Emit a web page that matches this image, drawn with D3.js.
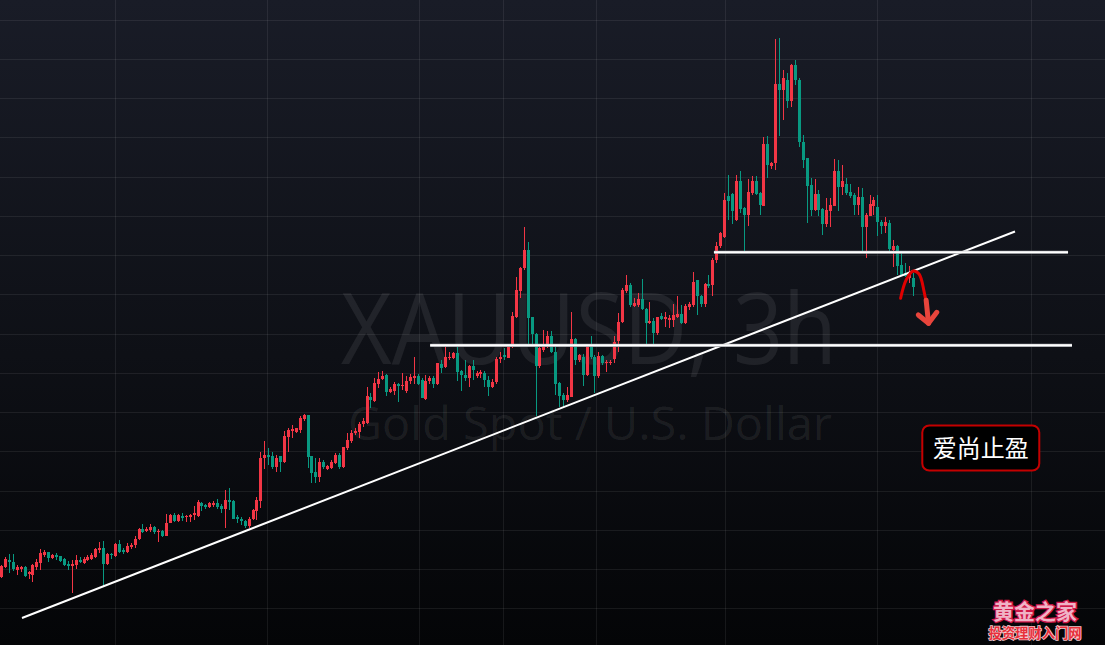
<!DOCTYPE html>
<html><head><meta charset="utf-8">
<script src="https://cdn.jsdelivr.net/npm/d3@7"></script>
<style>html,body{margin:0;padding:0;background:#0d0f14;overflow:hidden}svg{display:block}</style>
</head><body><svg id="chart" width="1105" height="645"></svg>
<script>
// ---- Candle data (3h bars, XAUUSD) ----
const open = [
2231.6,2241.6,2249.3,2247.0,2239.0,2240.3,2241.6,2234.6,2233.6,2242.3,
2246.6,2254.3,2257.0,2251.6,2254.6,2253.0,2250.3,2245.6,2242.6,2244.3,
2249.6,2246.0,2249.3,2250.3,2252.0,2259.3,2261.3,2245.3,2255.3,2253.3,
2265.3,2259.0,2257.0,2262.0,2264.3,2270.6,2281.2,2279.2,2279.9,2283.2,
2277.2,2278.9,2273.9,2287.2,2294.9,2288.9,2294.2,2292.6,2293.2,2294.6,
2293.9,2307.6,2305.2,2303.2,2305.6,2306.9,2304.2,2301.2,2309.9,2309.2,
2292.6,2290.9,2289.2,2283.9,2290.9,2298.9,2309.2,2352.8,2355.8,2355.5,
2344.0,2354.8,2349.0,2374.8,2380.5,2379.8,2381.5,2393.3,2396.6,2354.8,
2338.7,2334.0,2349.0,2342.4,2343.0,2348.0,2356.5,2344.0,2363.2,2370.8,
2378.2,2379.8,2388.2,2388.8,2415.6,2411.3,2429.0,2433.8,2438.1,2420.6,
2421.6,2429.0,2426.3,2421.6,2431.6,2434.8,2436.4,2432.3,2413.3,2431.6,
2434.4,2428.3,2449.1,2445.4,2454.8,2455.4,2459.8,2441.4,2438.1,2434.8,
2446.4,2436.4,2438.8,2439.8,2432.3,2425.0,2430.3,2453.8,2458.1,2455.4,
2466.4,2497.1,2522.9,2546.3,2565.4,2496.5,2479.8,2446.4,2463.1,2466.4,
2477.8,2461.4,2429.6,2417.3,2412.3,2415.6,2474.5,2453.1,2455.8,2438.1,
2466.4,2455.8,2436.4,2457.1,2449.8,2449.8,2453.8,2472.1,2492.1,2522.9,
2529.6,2507.8,2508.8,2515.6,2504.5,2491.1,2493.1,2480.5,2497.8,2494.5,
2493.8,2493.8,2497.1,2499.8,2491.1,2507.1,2508.8,2534.6,2518.6,2509.8,
2530.6,2529.6,2554.7,2568.7,2578.7,2620.1,2621.8,2596.1,2635.9,2607.8,
2601.1,2622.8,2635.9,2623.4,2610.1,2673.6,2650.9,2654.2,2734.4,2727.7,
2738.4,2716.7,2753.4,2738.4,2675.6,2658.9,2631.1,2606.1,2622.1,2606.8,
2591.1,2605.1,2610.4,2645.9,2629.2,2632.1,2623.8,2621.1,2611.1,2618.8,
2588.7,2600.1,2610.1,2609.4,2593.7,2589.4,2592.7,2565.4,2568.7,2549.3,
2541.9,2536.3,2536.3
];
const high = [
2244.3,2252.6,2255.3,2255.3,2244.3,2242.6,2242.6,2237.6,2245.3,2250.0,
2260.3,2259.6,2257.6,2255.3,2256.6,2253.6,2251.6,2248.6,2249.3,2254.3,
2252.6,2252.6,2254.3,2256.0,2261.0,2267.6,2268.3,2256.0,2256.6,2266.0,
2269.3,2261.3,2266.6,2267.0,2273.2,2282.2,2285.9,2283.2,2285.6,2283.9,
2280.6,2279.9,2295.6,2295.6,2296.6,2295.9,2296.6,2294.9,2295.6,2303.9,
2309.9,2308.2,2306.6,2307.9,2308.9,2311.4,2306.6,2320.7,2322.7,2309.9,
2294.9,2293.2,2289.9,2293.2,2301.6,2313.4,2359.2,2370.5,2363.2,2359.2,
2356.5,2355.5,2380.8,2383.8,2387.2,2383.8,2395.6,2398.3,2397.3,2355.5,
2353.2,2353.2,2350.7,2345.7,2350.7,2358.2,2358.2,2364.8,2378.2,2381.5,
2383.2,2389.8,2394.0,2425.6,2419.0,2434.8,2440.4,2441.4,2439.1,2425.6,
2430.6,2429.6,2439.8,2437.1,2439.1,2456.4,2439.1,2434.8,2438.1,2437.1,
2436.4,2450.4,2453.1,2466.4,2461.4,2461.4,2466.4,2443.1,2453.1,2448.1,
2453.1,2441.4,2443.1,2441.4,2436.4,2433.8,2456.4,2461.4,2464.8,2468.1,
2502.1,2537.9,2547.9,2588.7,2573.1,2497.1,2480.5,2466.4,2483.8,2482.1,
2482.1,2466.4,2430.6,2419.0,2425.6,2501.5,2475.5,2459.1,2459.1,2466.4,
2477.1,2458.1,2461.4,2458.1,2453.1,2453.1,2477.1,2500.5,2526.3,2539.6,
2531.3,2516.3,2521.3,2535.6,2506.3,2512.1,2495.5,2497.1,2500.5,2502.1,
2498.8,2510.5,2517.9,2508.8,2509.8,2512.1,2542.9,2534.6,2519.6,2531.9,
2539.6,2557.1,2573.7,2583.7,2622.8,2641.9,2622.8,2641.9,2645.2,2609.4,
2637.8,2640.2,2640.2,2624.4,2679.9,2681.6,2655.2,2779.7,2781.3,2748.4,
2745.1,2755.1,2758.4,2740.7,2682.6,2659.2,2638.6,2637.6,2626.1,2607.8,
2617.8,2617.8,2657.9,2656.9,2651.9,2638.6,2632.1,2622.8,2629.4,2627.8,
2602.8,2621.1,2619.4,2621.1,2595.4,2598.8,2595.4,2575.4,2570.4,2563.7,
2552.1,2548.7,2541.3
];
const low = [
2231.0,2241.0,2236.0,2237.6,2234.3,2236.6,2232.0,2230.0,2226.6,2239.3,
2238.6,2252.0,2247.6,2250.3,2249.3,2247.0,2242.6,2238.6,2216.0,2239.6,
2246.0,2245.3,2248.6,2249.3,2251.0,2256.6,2222.6,2244.3,2250.3,2252.0,
2256.6,2255.3,2256.0,2260.3,2261.0,2269.3,2276.6,2277.2,2277.9,2275.2,
2267.6,2272.2,2273.2,2286.6,2288.2,2287.6,2289.2,2288.2,2287.9,2289.9,
2293.2,2299.2,2301.6,2301.9,2303.2,2301.6,2297.2,2282.2,2299.9,2290.6,
2287.2,2284.9,2282.2,2281.6,2289.9,2289.9,2302.2,2341.7,2345.7,2341.7,
2339.0,2339.0,2348.4,2358.8,2373.2,2378.8,2378.2,2391.3,2343.0,2327.4,
2328.0,2329.0,2342.4,2341.4,2342.4,2346.7,2342.4,2343.4,2361.5,2368.2,
2376.5,2373.2,2384.8,2388.2,2404.0,2410.6,2424.0,2432.3,2416.3,2419.0,
2417.3,2410.6,2422.3,2419.6,2429.0,2429.0,2427.3,2414.0,2412.3,2429.0,
2424.0,2427.3,2439.8,2444.8,2453.1,2453.8,2431.4,2421.6,2431.4,2425.6,
2433.1,2434.8,2434.8,2425.6,2416.3,2424.0,2429.0,2449.8,2453.1,2454.8,
2464.8,2495.5,2516.3,2544.6,2466.4,2466.4,2395.6,2444.8,2461.4,2464.8,
2459.8,2417.3,2405.6,2405.0,2410.6,2415.6,2448.1,2451.4,2426.3,2437.1,
2453.8,2419.0,2434.8,2448.1,2440.4,2448.1,2449.8,2461.4,2490.5,2521.3,
2507.1,2507.1,2507.1,2503.8,2467.1,2489.8,2467.8,2478.8,2493.8,2487.1,
2485.5,2487.1,2495.5,2489.8,2489.8,2503.8,2506.5,2498.8,2506.5,2507.1,
2526.3,2517.9,2552.1,2567.1,2577.1,2596.1,2592.1,2595.1,2602.8,2562.1,
2589.4,2621.1,2621.1,2601.1,2609.6,2638.6,2647.6,2646.9,2681.6,2697.6,
2709.9,2710.9,2733.4,2670.2,2648.6,2592.8,2599.4,2604.4,2599.4,2580.4,
2588.7,2588.7,2610.1,2604.4,2621.1,2621.1,2617.8,2601.1,2601.1,2563.7,
2557.1,2599.4,2601.1,2579.4,2581.4,2582.1,2563.7,2547.3,2539.6,2538.6,
2537.9,2531.3,2517.9
];
const close = [
2242.6,2250.3,2247.0,2240.0,2241.6,2241.6,2233.3,2236.6,2243.6,2247.0,
2256.3,2257.3,2251.6,2254.3,2252.6,2248.0,2244.3,2242.6,2245.6,2249.3,
2247.0,2250.3,2252.0,2254.3,2260.3,2261.0,2245.6,2255.0,2254.0,2265.3,
2257.6,2257.6,2263.6,2264.6,2270.6,2280.9,2278.2,2280.6,2283.2,2277.2,
2278.9,2273.9,2286.9,2294.9,2289.2,2294.9,2292.2,2294.2,2294.9,2296.6,
2308.2,2303.9,2303.2,2306.9,2306.9,2302.9,2301.2,2309.9,2307.9,2291.2,
2290.6,2289.2,2283.9,2290.9,2300.2,2309.9,2353.2,2356.5,2354.2,2344.0,
2353.5,2349.0,2375.5,2381.5,2382.2,2383.2,2394.0,2397.3,2353.8,2338.0,
2334.0,2349.0,2344.0,2344.7,2349.0,2356.5,2344.0,2364.2,2371.5,2378.8,
2380.5,2388.2,2390.6,2416.3,2412.3,2429.6,2434.1,2436.4,2420.6,2423.3,
2429.0,2426.6,2427.3,2431.6,2435.8,2436.4,2429.0,2414.6,2431.6,2434.4,
2428.3,2449.8,2444.8,2455.8,2456.4,2459.8,2440.4,2438.1,2434.8,2446.4,
2443.1,2439.8,2440.4,2432.3,2425.6,2430.6,2454.1,2456.4,2456.4,2466.4,
2497.8,2524.6,2546.3,2565.4,2496.1,2479.5,2446.4,2465.4,2467.1,2477.8,
2460.8,2429.0,2416.3,2412.3,2417.3,2474.5,2453.1,2457.8,2438.1,2466.4,
2456.4,2436.4,2457.1,2449.8,2451.4,2451.4,2471.4,2492.1,2523.9,2529.6,
2508.8,2511.1,2515.6,2504.5,2491.1,2493.1,2480.5,2497.1,2494.5,2497.1,
2495.5,2498.8,2499.8,2491.1,2507.8,2509.8,2532.9,2518.6,2509.8,2530.6,
2528.6,2554.6,2569.4,2582.1,2616.1,2615.4,2605.1,2635.9,2607.1,2601.1,
2623.8,2635.9,2622.1,2611.1,2672.9,2651.9,2654.2,2734.4,2727.7,2740.1,
2716.7,2754.1,2738.4,2674.9,2656.9,2630.1,2606.1,2622.1,2606.1,2591.1,
2606.1,2611.1,2645.9,2629.2,2635.1,2622.8,2620.1,2611.1,2618.8,2588.7,
2601.1,2611.8,2616.1,2593.4,2589.4,2593.7,2566.1,2568.7,2548.6,2539.6,
2538.6,2541.3,2526.9
];

// grid (price levels and bar positions of the time grid)
const gridPrices = [2800,2760,2720,2680,2640,2600,2560,2520,2480,2440,2400,2360,2320,2280,2240,2200,2160];
const gridBars = [28.9, 67.6, 106.4, 127.7, 151.4, 184.2, 223.0, 262.0];

// drawings in (bar index, price)
const trendLine = [[5.34, 2190.1], [258.0, 2584.0]];
const levelLow  = [[109.2, 2468.0], [272.5, 2468.0]];
const levelHigh = [[181.4, 2562.8], [271.5, 2562.8]];
const arrowCurve = [[228.9,2515.9],[230.3,2534.5],[232.1,2543.7],[233.6,2540.6],[234.9,2522.2],[235.5,2509.1]];
const arrowShaft = [[235.4,2514.0],[236.0,2490.4]];
const arrowHead  = [[233.4,2498.9],[236.0,2490.4],[238.1,2501.6]];
const labelAnchor = [249.3, 2363.3];

// texts
const labelText = "爱尚止盈";
const symbolTitle = "XAUUSD, 3h";
const symbolDesc = "Gold Spot / U.S. Dollar";
const logoTitle = "黄金之家";
const logoSub = "投资理财入门网";

const W = 1105, H = 645;
const svg = d3.select("#chart");

const x = d3.scaleLinear().domain([0, 232]).range([1, 912.8]);
const y = d3.scaleLinear().domain([2200, 2800]).range([608.25, 19.5]);

// background
const defs = svg.append("defs");
const grad = defs.append("linearGradient").attr("id","bg").attr("x1",0).attr("y1",0).attr("x2",0).attr("y2",1);
grad.append("stop").attr("offset","0%").attr("stop-color","#191c27");
grad.append("stop").attr("offset","55%").attr("stop-color","#0e1016");
grad.append("stop").attr("offset","100%").attr("stop-color","#040507");
svg.append("rect").attr("width",W).attr("height",H).attr("fill","url(#bg)");

// grid
const grid = svg.append("g").attr("shape-rendering","crispEdges");
grid.selectAll("line.h").data(gridPrices).join("line").attr("class","h")
  .attr("x1",0).attr("x2",W)
  .attr("y1",d=>Math.round(y(d))+0.5).attr("y2",d=>Math.round(y(d))+0.5)
  .attr("stroke","rgba(255,255,255,0.075)").attr("stroke-width",1);
grid.selectAll("line.v").data(gridBars).join("line").attr("class","v")
  .attr("y1",0).attr("y2",H)
  .attr("x1",d=>Math.round(x(d))+0.5).attr("x2",d=>Math.round(x(d))+0.5)
  .attr("stroke","rgba(255,255,255,0.075)").attr("stroke-width",1);

// watermark
const wm = svg.append("g").attr("fill","rgba(255,255,255,0.08)").attr("font-family","'Open Sans','Noto Sans',sans-serif");
wm.append("text").attr("x",589).attr("y",364).attr("text-anchor","middle")
  .attr("font-size",98).attr("textLength",496).attr("lengthAdjust","spacingAndGlyphs").text(symbolTitle);
wm.append("text").attr("x",590).attr("y",440).attr("text-anchor","middle")
  .attr("font-size",46).attr("textLength",484).attr("lengthAdjust","spacingAndGlyphs").text(symbolDesc);

// candles
const UP = "#f23645", DOWN = "#089981";
const idx = d3.range(open.length);
const cg = svg.append("g").attr("shape-rendering","crispEdges");
cg.selectAll("line").data(idx).join("line")
  .attr("x1",i=>Math.round(x(i))+0.5).attr("x2",i=>Math.round(x(i))+0.5)
  .attr("y1",i=>y(Math.max(high[i],open[i],close[i])))
  .attr("y2",i=>y(Math.min(low[i],open[i],close[i])))
  .attr("stroke",i=>close[i]>=open[i]?UP:DOWN).attr("stroke-width",1);
cg.selectAll("rect").data(idx).join("rect")
  .attr("x",i=>Math.round(x(i))-1).attr("width",3)
  .attr("y",i=>y(Math.max(open[i],close[i])))
  .attr("height",i=>Math.max(1, y(Math.min(open[i],close[i]))-y(Math.max(open[i],close[i]))))
  .attr("fill",i=>close[i]>=open[i]?UP:DOWN);

// drawings
const line = d3.line().x(d=>x(d[0])).y(d=>y(d[1]));
svg.append("path").attr("d",line(trendLine)).attr("stroke","#ffffff").attr("stroke-width",2).attr("fill","none");
[levelLow, levelHigh].forEach(l=>{
  svg.append("path").attr("d",line(l)).attr("stroke","#9a9ca2").attr("stroke-width",3.2).attr("fill","none");
  svg.append("path").attr("d",line(l)).attr("stroke","#ffffff").attr("stroke-width",2).attr("fill","none");
});
const curve = d3.line().x(d=>x(d[0])).y(d=>y(d[1])).curve(d3.curveCatmullRom);
svg.append("path").attr("d",curve(arrowCurve)).attr("stroke","#e00000").attr("stroke-width",3)
  .attr("fill","none").attr("stroke-linecap","round");
svg.append("path").attr("d",line(arrowShaft)).attr("stroke","#e8453c").attr("stroke-width",5)
  .attr("fill","none").attr("stroke-linecap","round");
svg.append("path").attr("d",line(arrowHead)).attr("stroke","#e8453c").attr("stroke-width",5)
  .attr("fill","none").attr("stroke-linecap","round").attr("stroke-linejoin","round");

// label box
const lx = x(labelAnchor[0]), ly = y(labelAnchor[1]);
svg.append("rect").attr("x",lx-58.5).attr("y",ly-22.5).attr("width",117).attr("height",45).attr("rx",7)
  .attr("fill","#000000").attr("stroke","#c40000").attr("stroke-width",2);
svg.append("text").attr("x",lx).attr("y",ly+9).attr("text-anchor","middle")
  .attr("font-family","'Noto Sans CJK SC',sans-serif").attr("font-size",24).attr("fill","#ffffff").text(labelText);

// logo
svg.append("text").attr("x",1035).attr("y",619).attr("text-anchor","middle")
  .attr("font-family","'Noto Sans CJK SC',sans-serif").attr("font-weight",700).attr("font-size",21)
  .attr("fill","#f0b3c6").attr("stroke","#cf1848").attr("stroke-width",2.6).attr("paint-order","stroke").text(logoTitle);
svg.append("text").attr("x",1035).attr("y",638).attr("text-anchor","middle")
  .attr("font-family","'Noto Sans CJK SC',sans-serif").attr("font-weight",700).attr("font-size",13.3)
  .attr("fill","#e8303a").attr("stroke","#f3c8cf").attr("stroke-width",1.6).attr("paint-order","stroke").text(logoSub);
</script></body></html>
